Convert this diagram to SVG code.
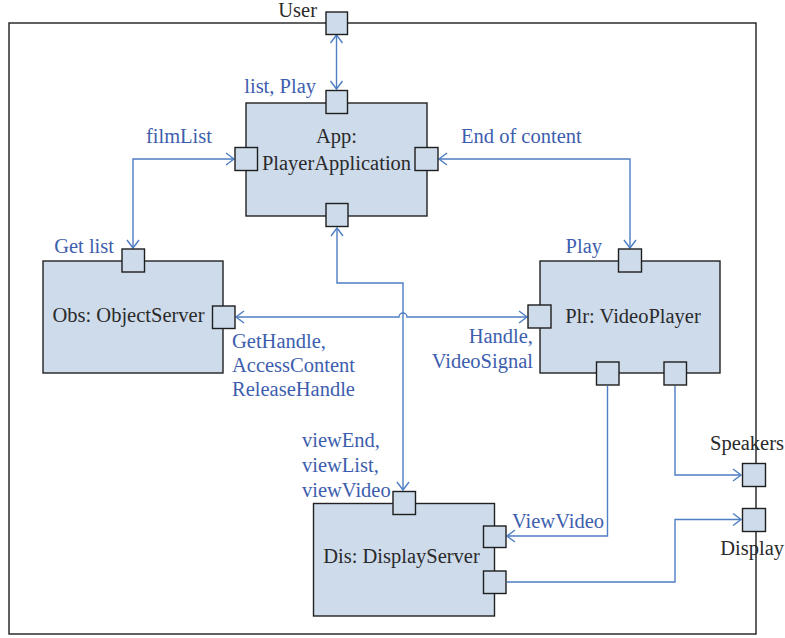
<svg xmlns="http://www.w3.org/2000/svg" width="785" height="638" viewBox="0 0 785 638">
  <style>
    .frame { fill: none; stroke: #1e1e1e; stroke-width: 1.4; }
    .box { fill: #cedbeb; stroke: #222222; stroke-width: 1.4; }
    .port { fill: #cedbeb; stroke: #1e1e1e; stroke-width: 1.4; }
    .wire { fill: none; stroke: #4e7ec3; stroke-width: 1.4; }
    .name { font-family: "Liberation Serif", "Times New Roman", serif; font-size: 20.5px; fill: #2a2a2a; }
    .lbl { font-family: "Liberation Serif", "Times New Roman", serif; font-size: 20.5px; fill: #3d5eae; }
  </style>
  <defs>
    <marker id="arr" viewBox="-10 -8 12 16" refX="0" refY="0" markerWidth="12" markerHeight="16" markerUnits="userSpaceOnUse" orient="auto-start-reverse">
      <path d="M-8,-6 L0,0 L-8,6" fill="none" stroke="#4e7ec3" stroke-width="1.4"/>
    </marker>
  </defs>

  <rect width="785" height="638" fill="#ffffff"/>

  <!-- enclosing system boundary -->
  <rect class="frame" x="9" y="23" width="747" height="611"/>

  <!-- connectors -->
  <g id="connectors">
    <path class="wire" d="M336.5,35 V89" marker-start="url(#arr)" marker-end="url(#arr)"/>
    <path class="wire" d="M234,159 H133 V248" marker-start="url(#arr)" marker-end="url(#arr)"/>
    <path class="wire" d="M439,159 H630 V248" marker-start="url(#arr)" marker-end="url(#arr)"/>
    <path class="wire" d="M236,317 H399 A4,4 0 0 1 407,317 H527" marker-start="url(#arr)" marker-end="url(#arr)"/>
    <path class="wire" d="M337,228 V283 H403 V490" marker-start="url(#arr)" marker-end="url(#arr)"/>
    <path class="wire" d="M607.5,386 V536 H507" marker-end="url(#arr)"/>
    <path class="wire" d="M675,386 V475 H741" marker-end="url(#arr)"/>
    <path class="wire" d="M507,582 H675 V519.5 H741" marker-end="url(#arr)"/>
  </g>

  <!-- boundary ports -->
  <g id="user">
    <rect class="port" x="326" y="12" width="21.5" height="22.5"/>
    <text class="name" x="317" y="17" text-anchor="end">User</text>
  </g>
  <g id="speakers">
    <rect class="port" x="742.5" y="463.5" width="23" height="23"/>
    <text class="name" x="784" y="450" text-anchor="end">Speakers</text>
  </g>
  <g id="display">
    <rect class="port" x="742.5" y="508.5" width="23" height="23"/>
    <text class="name" x="784" y="555" text-anchor="end">Display</text>
  </g>

  <!-- App: PlayerApplication -->
  <g id="app">
    <rect class="box" x="246" y="103" width="181" height="113"/>
    <rect class="port" x="326" y="90.5" width="21.5" height="23"/>
    <rect class="port" x="235" y="147.5" width="22.5" height="23"/>
    <rect class="port" x="415" y="147.5" width="23" height="23"/>
    <rect class="port" x="326" y="203.5" width="22" height="23"/>
    <text class="name" x="336.5" y="143" text-anchor="middle">App:</text>
    <text class="name" x="336.5" y="170" text-anchor="middle">PlayerApplication</text>
  </g>

  <!-- Obs: ObjectServer -->
  <g id="obs">
    <rect class="box" x="43" y="261" width="180" height="112"/>
    <rect class="port" x="122" y="249" width="22.5" height="23"/>
    <rect class="port" x="212.5" y="306" width="22.5" height="22.5"/>
    <text class="name" x="128.5" y="322" text-anchor="middle">Obs: ObjectServer</text>
  </g>

  <!-- Plr: VideoPlayer -->
  <g id="plr">
    <rect class="box" x="540" y="261" width="180" height="112"/>
    <rect class="port" x="618.5" y="249" width="23" height="23"/>
    <rect class="port" x="528" y="305" width="23" height="23"/>
    <rect class="port" x="596.5" y="362" width="22.5" height="23"/>
    <rect class="port" x="664" y="362" width="22.5" height="23"/>
    <text class="name" x="633" y="323" text-anchor="middle">Plr: VideoPlayer</text>
  </g>

  <!-- Dis: DisplayServer -->
  <g id="dis">
    <rect class="box" x="313.5" y="503.5" width="181" height="112.5"/>
    <rect class="port" x="393" y="491.5" width="22.5" height="23"/>
    <rect class="port" x="483.5" y="526" width="22.5" height="21.5"/>
    <rect class="port" x="483.5" y="571" width="22.5" height="22.5"/>
    <text class="name" x="401.5" y="563" text-anchor="middle">Dis: DisplayServer</text>
  </g>

  <!-- interface labels -->
  <g id="labels">
    <text class="lbl" x="316" y="93" text-anchor="end">list, Play</text>
    <text class="lbl" x="212" y="143" text-anchor="end">filmList</text>
    <text class="lbl" x="461" y="143">End of content</text>
    <text class="lbl" x="114" y="253" text-anchor="end">Get list</text>
    <text class="lbl" x="602" y="253" text-anchor="end">Play</text>
    <text class="lbl" x="232" y="348">GetHandle,</text>
    <text class="lbl" x="232" y="372">AccessContent</text>
    <text class="lbl" x="232" y="396">ReleaseHandle</text>
    <text class="lbl" x="533" y="343" text-anchor="end">Handle,</text>
    <text class="lbl" x="533" y="368" text-anchor="end">VideoSignal</text>
    <text class="lbl" x="302" y="447">viewEnd,</text>
    <text class="lbl" x="302" y="472">viewList,</text>
    <text class="lbl" x="302" y="497">viewVideo</text>
    <text class="lbl" x="512" y="528">ViewVideo</text>
  </g>
</svg>
